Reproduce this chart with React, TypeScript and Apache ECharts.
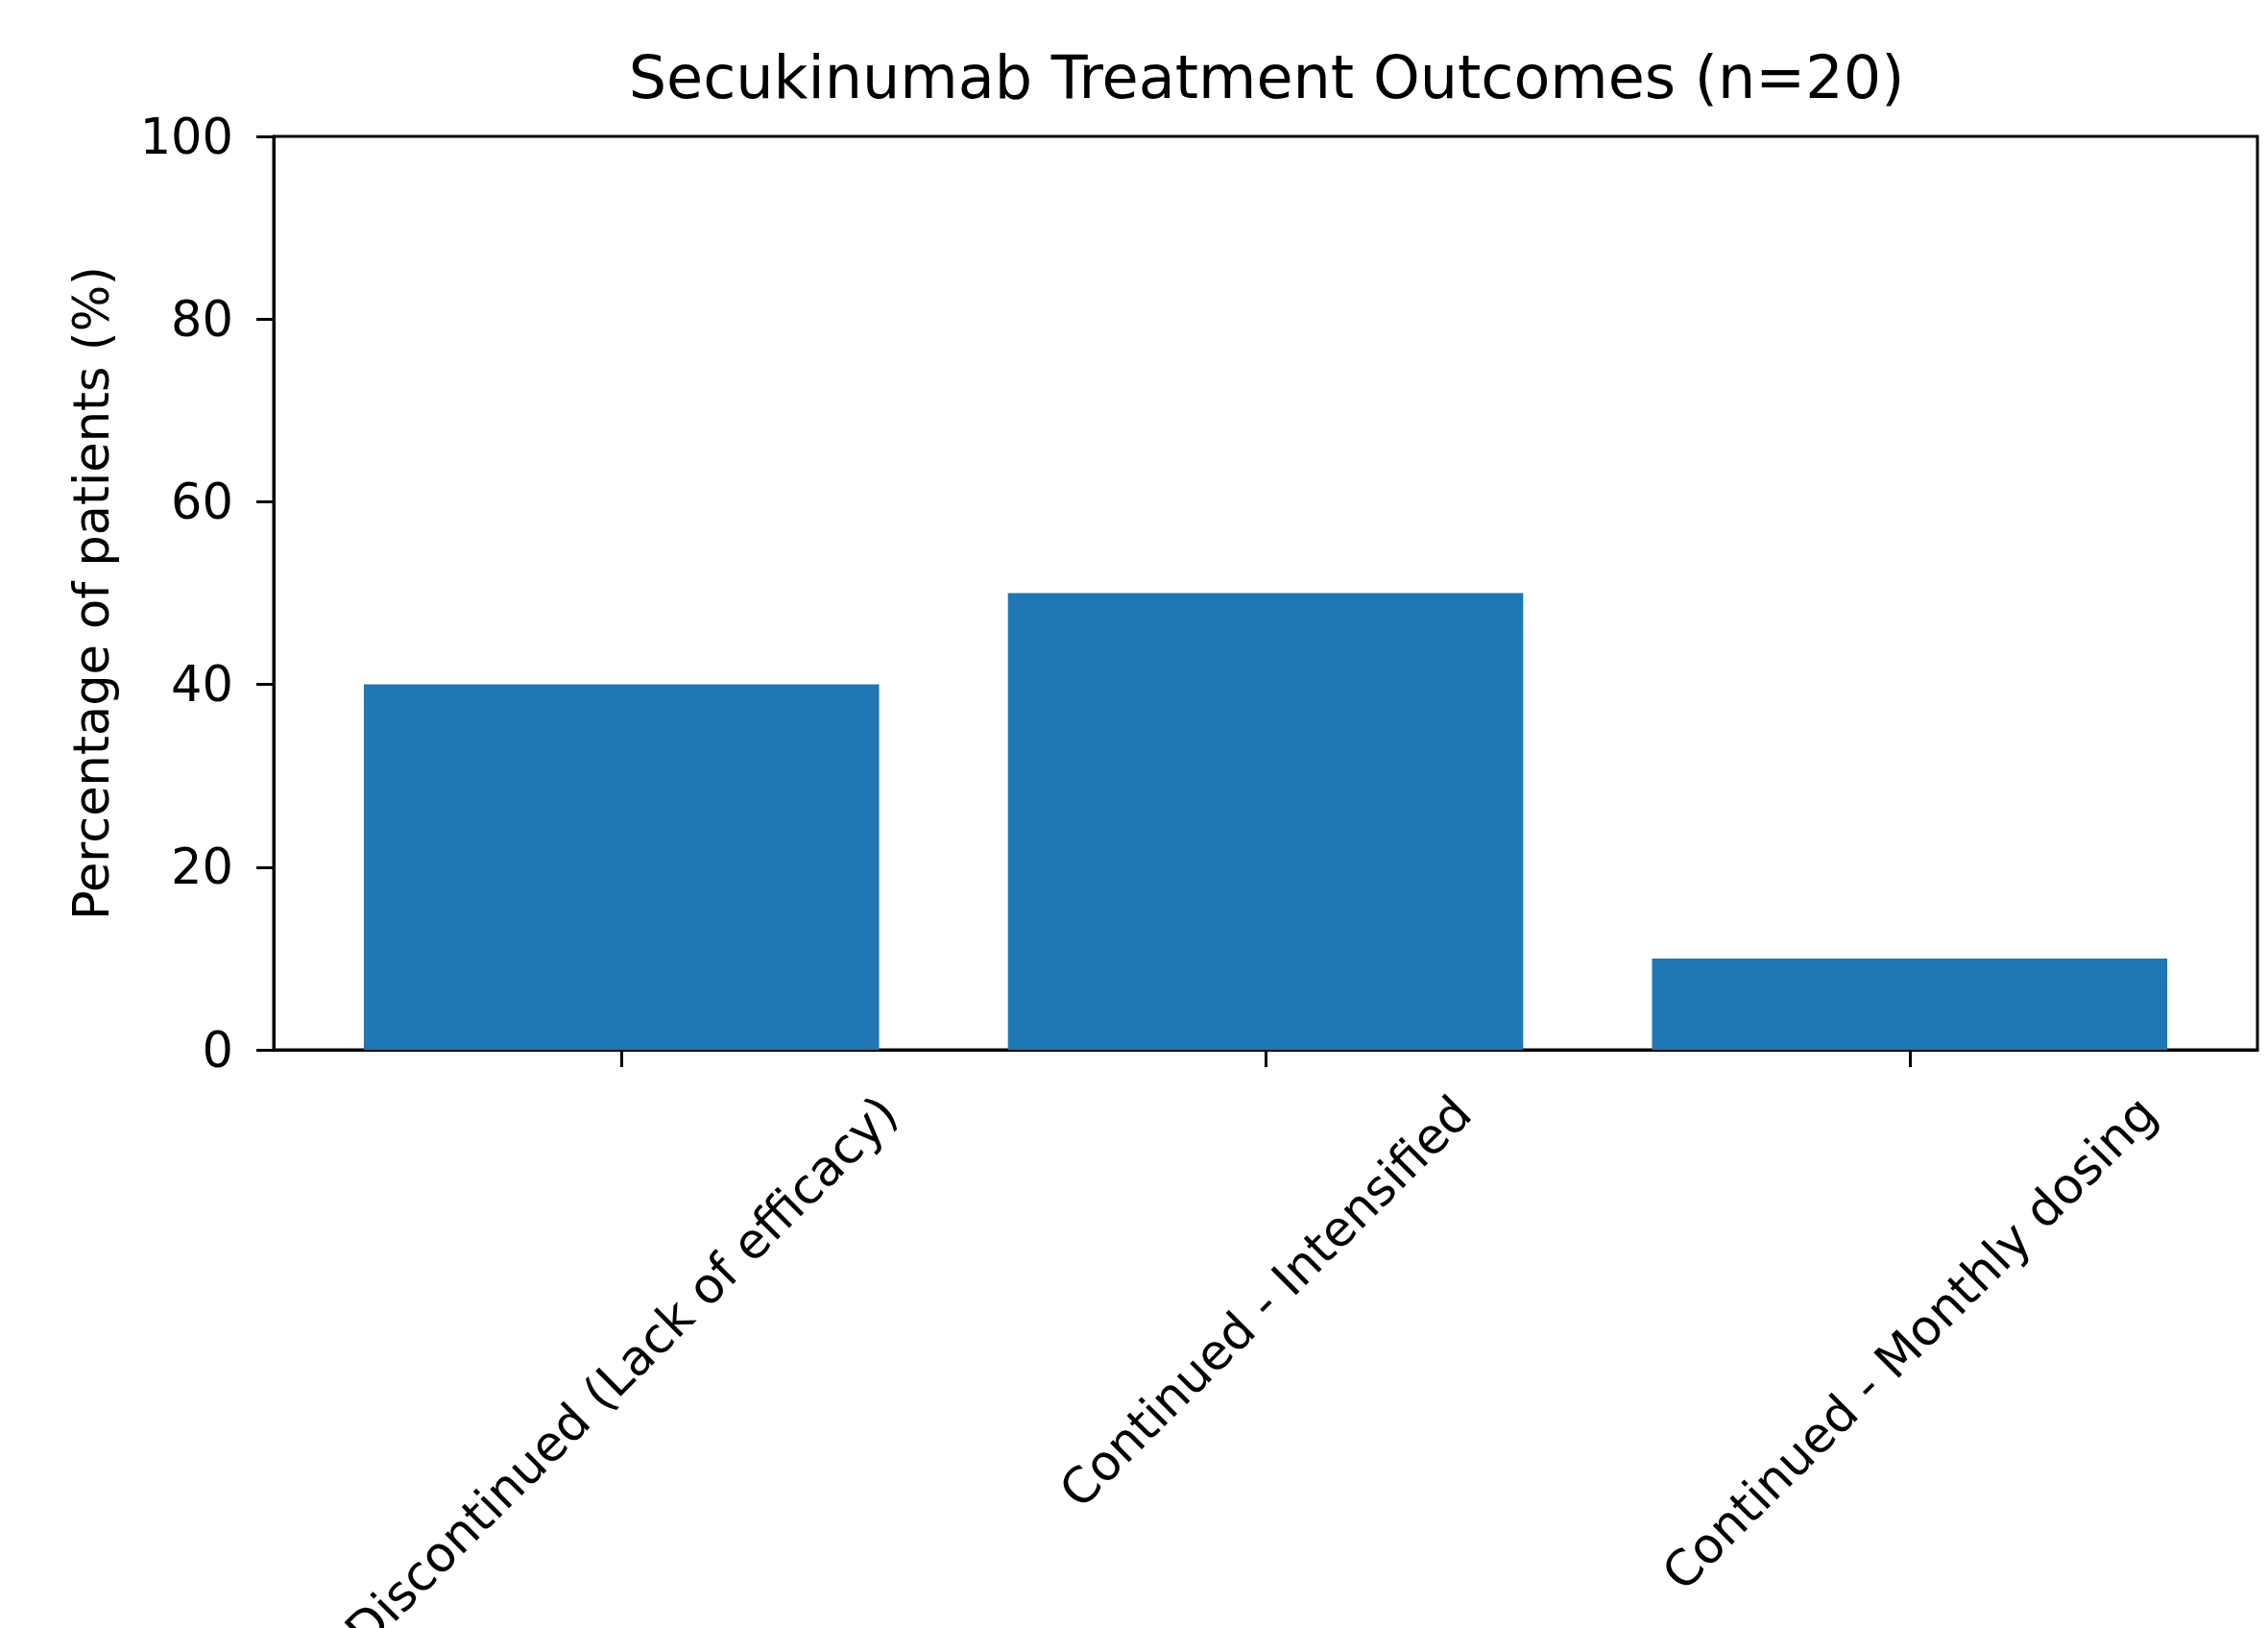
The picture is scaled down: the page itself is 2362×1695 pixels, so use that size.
import React, { useEffect, useRef } from "react";
import * as echarts from "echarts";

const categories = [
  "Discontinued (Lack of efficacy)",
  "Continued - Intensified",
  "Continued - Monthly dosing",
];
const percentages = [40, 50, 10];
const yTickValues = [0, 20, 40, 60, 80, 100];
const titleText = "Secukinumab Treatment Outcomes (n=20)";
const yAxisTitle = "Percentage of patients (%)";

const W = 2362;
const H = 1695;
const PLOT_L = 285;
const PLOT_R = 2351;
const PLOT_T = 142;
const PLOT_B = 1093;
const X_MIN = -0.54;
const X_MAX = 2.54;
const FONT = '"DejaVu Sans", "Liberation Sans", sans-serif';
const TICK_FS = 51;
const TITLE_FS = 62;
const LH = 60;
const BAR_COLOR = "#1f77b4";

function measure(text: string): number {
  const ctx = document.createElement("canvas").getContext("2d");
  if (!ctx) return text.length * TICK_FS * 0.6;
  ctx.font = `${TICK_FS}px "DejaVu Sans"`;
  return ctx.measureText(text).width;
}

export default function App() {
  const ref = useRef<HTMLDivElement>(null);
  useEffect(() => {
    if (!ref.current) return;
    const chart = echarts.init(ref.current, undefined, { renderer: "svg" });
    const plotW = PLOT_R - PLOT_L;
    const barWidth = (0.8 / (X_MAX - X_MIN)) * plotW;
    const rich: Record<string, any> = {};
    categories.forEach((c, i) => {
      const w = measure(c);
      const p = (w + LH) / 2;
      rich["l" + i] = {
        padding: [p, p, 0, 0],
        fontSize: TICK_FS,
        fontFamily: FONT,
        color: "#000",
        lineHeight: LH,
      };
    });
    chart.setOption({
      animation: false,
      backgroundColor: "#fff",
      title: {
        text: titleText,
        left: (PLOT_L + PLOT_R) / 2 - 4,
        textAlign: "center",
        top: 44,
        textStyle: {
          fontFamily: FONT,
          fontSize: TITLE_FS,
          fontWeight: "normal",
          color: "#000",
        },
      },
      grid: {
        left: PLOT_L,
        right: W - PLOT_R,
        top: PLOT_T,
        bottom: H - PLOT_B,
        containLabel: false,
        outerBoundsMode: "none",
        show: true,
        borderColor: "#000",
        borderWidth: 3,
        backgroundColor: "transparent",
      },
      xAxis: {
        type: "value",
        min: X_MIN,
        max: X_MAX,
        splitLine: { show: false },
        axisLine: { show: true, onZero: false, lineStyle: { color: "#000", width: 3 } },
        axisTick: {
          show: true,
          customValues: [0, 1, 2],
          length: 18,
          lineStyle: { color: "#000", width: 3 },
        },
        axisLabel: {
          show: true,
          customValues: [0, 1, 2],
          rotate: 45,
          margin: 36,
          align: "center",
          verticalAlign: "middle",
          formatter: (v: number) => {
            const i = Math.round(v);
            return `{l${i}|${categories[i]}}`;
          },
          rich,
        },
      },
      yAxis: {
        type: "value",
        min: 0,
        max: 100,
        interval: 20,
        name: yAxisTitle,
        nameLocation: "middle",
        nameRotate: 90,
        nameGap: 164,
        nameTextStyle: { fontFamily: FONT, fontSize: TICK_FS, color: "#000" },
        splitLine: { show: false },
        axisLine: { show: true, onZero: false, lineStyle: { color: "#000", width: 3 } },
        axisTick: { show: true, length: 18, lineStyle: { color: "#000", width: 3 } },
        axisLabel: {
          fontFamily: FONT,
          fontSize: TICK_FS,
          color: "#000",
          margin: 42,
          formatter: (v: number) => (yTickValues.includes(v) ? String(v) : ""),
        },
      },
      series: [
        {
          type: "bar",
          data: percentages.map((v, i) => [i, v]),
          barWidth,
          itemStyle: { color: BAR_COLOR },
        },
      ],
    });
    return () => chart.dispose();
  }, []);
  return (
    <div
      ref={ref}
      style={{ position: "fixed", left: 0, top: 0, width: W, height: H, background: "#fff" }}
    />
  );
}
